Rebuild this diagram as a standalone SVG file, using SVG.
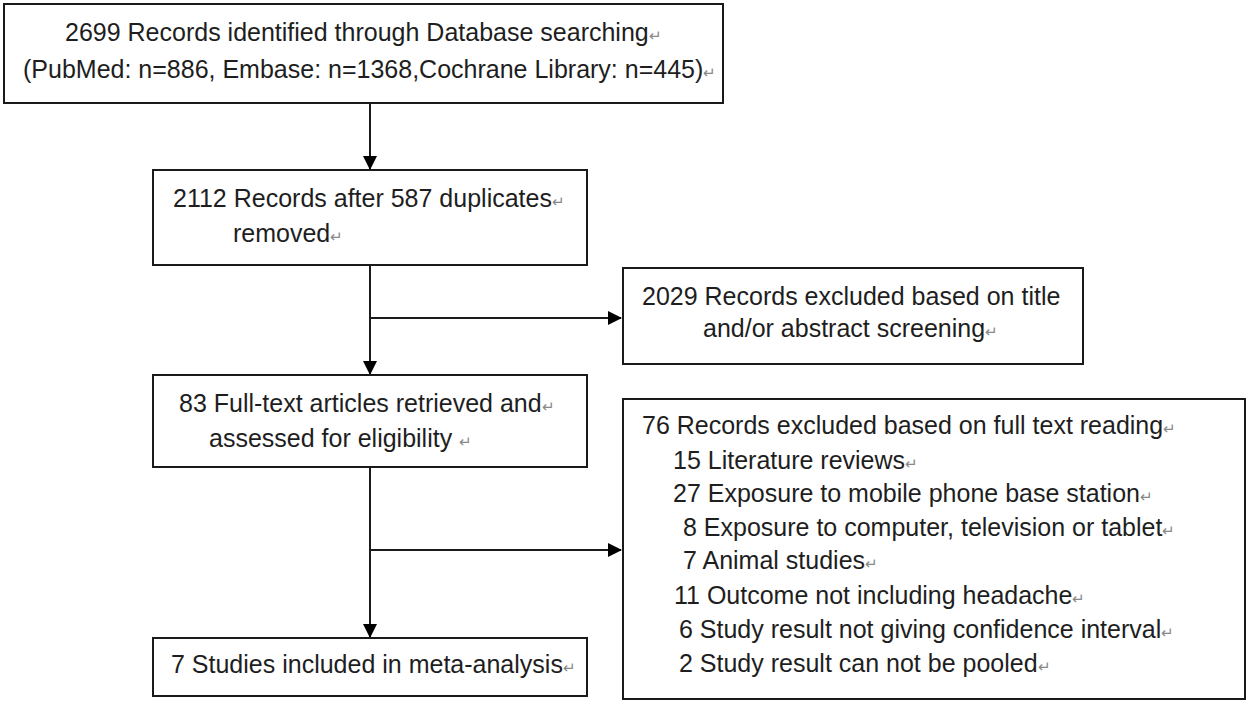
<svg xmlns="http://www.w3.org/2000/svg" width="1250" height="705" viewBox="0 0 1250 705">
<style>
.box{fill:#fff;stroke:#1a1a1a;stroke-width:2}
.t{font-family:"Liberation Sans",Arial,sans-serif;font-size:25px;fill:#1e1e1e}
.r{font-size:15px;fill:#888}
.ln{stroke:#1a1a1a;stroke-width:2;fill:none}
</style>
<defs>
<marker id="ah" markerWidth="14" markerHeight="14" refX="13" refY="7" orient="auto" markerUnits="userSpaceOnUse">
<path d="M0,0 L14,7 L0,14 Z" fill="#000"/>
</marker>
</defs>
<rect width="1250" height="705" fill="#fff"/>
<g id="connectors">
<line class="ln" x1="370" y1="103" x2="370" y2="169" marker-end="url(#ah)"/>
<line class="ln" x1="370" y1="265" x2="370" y2="374" marker-end="url(#ah)"/>
<line class="ln" x1="370" y1="318" x2="621" y2="318" marker-end="url(#ah)"/>
<line class="ln" x1="370" y1="467" x2="370" y2="637" marker-end="url(#ah)"/>
<line class="ln" x1="370" y1="550" x2="621" y2="550" marker-end="url(#ah)"/>
</g>
<g id="n1">
<rect class="box" x="4" y="4" width="719" height="99"/>
<text class="t" x="65" y="41">2699  Records identified through Database searching<tspan class="r">↵</tspan></text>
<text class="t" x="23" y="78">(PubMed: n=886, Embase: n=1368,Cochrane Library: n=445)<tspan class="r">↵</tspan></text>
</g>
<g id="n2">
<rect class="box" x="153" y="170" width="434" height="95"/>
<text class="t" x="173" y="207">2112  Records after 587  duplicates<tspan class="r">↵</tspan></text>
<text class="t" x="233" y="242">removed<tspan class="r">↵</tspan></text>
</g>
<g id="n3">
<rect class="box" x="623" y="268" width="460" height="96"/>
<text class="t" x="642" y="305">2029  Records excluded based on title</text>
<text class="t" x="703" y="337">and/or abstract screening<tspan class="r">↵</tspan></text>
</g>
<g id="n4">
<rect class="box" x="153" y="375" width="434" height="92"/>
<text class="t" x="179" y="412">83 Full-text articles retrieved and<tspan class="r">↵</tspan></text>
<text class="t" x="209" y="447">assessed for eligibility <tspan class="r">↵</tspan></text>
</g>
<g id="n5">
<rect class="box" x="153" y="638" width="434" height="58"/>
<text class="t" x="171" y="673">7 Studies included in meta-analysis<tspan class="r">↵</tspan></text>
</g>
<g id="n6">
<rect class="box" x="623" y="399" width="622" height="300"/>
<text class="t" x="642" y="434">76 Records excluded based on full text reading<tspan class="r">↵</tspan></text>
<text class="t" x="673" y="469">15 Literature reviews<tspan class="r">↵</tspan></text>
<text class="t" x="673" y="502">27 Exposure to mobile phone base station<tspan class="r">↵</tspan></text>
<text class="t" x="683" y="536">8 Exposure to computer, television or tablet<tspan class="r">↵</tspan></text>
<text class="t" x="683" y="569">7 Animal studies<tspan class="r">↵</tspan></text>
<text class="t" x="674" y="604">11 Outcome not including headache<tspan class="r">↵</tspan></text>
<text class="t" x="679" y="638">6  Study result not giving confidence interval<tspan class="r">↵</tspan></text>
<text class="t" x="679" y="672">2  Study result can  not be pooled<tspan class="r">↵</tspan></text>
</g>
</svg>
